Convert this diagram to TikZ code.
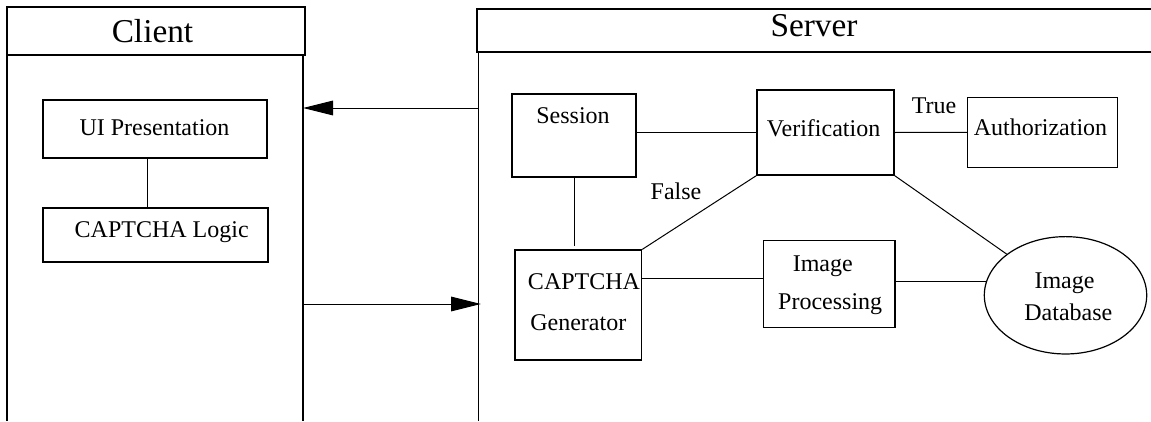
\documentclass[tikz,border=0pt]{standalone}
\usepackage{fontspec}
\setmainfont{Liberation Serif}
\usetikzlibrary{arrows.meta,shapes.geometric}

\tikzset{
  box/.style={draw, line width=0.9pt, inner sep=0pt},
  store/.style={draw, ellipse, line width=0.9pt, inner sep=0pt},
  lbl/.style={anchor=base, inner sep=0pt, font=\fontsize{18pt}{20pt}\selectfont},
  lanetitle/.style={anchor=base, inner sep=0pt, font=\fontsize{25pt}{28pt}\selectfont},
  lane/.style={line width=0.9pt},
  link/.style={line width=0.75pt},
  flow/.style={line width=0.75pt, -{Triangle[length=22.5pt,width=11pt]}},
}

\begin{document}
\begin{tikzpicture}[x=0.75pt, y=-0.75pt]
  \useasboundingbox (0,0) rectangle (1151,421);
  \clip (0,0) rectangle (1151,421);

  % ---- swimlanes ----
  \node[box, minimum width=223.5pt, minimum height=36pt] (clienthead) at (156,31) {};
  \node[lanetitle] (clienttitle) at (152.5,42) {Client};
  \coordinate (clientL) at (7,55);
  \coordinate (clientR) at (303,55);
  \draw[lane] (clientL) -- (clientL |- 0,421);
  \draw[lane] (clientR) -- (clientR |- 0,421);

  \node[box, minimum width=514.5pt, minimum height=32.25pt] (serverhead) at (820,30.5) {};
  \node[lanetitle] (servertitle) at (814,36) {Server};
  \coordinate (serverL) at (478.5,52);
  \draw[lane] (serverL) -- (serverL |- 0,421);

  % ---- messages between the lanes ----
  \coordinate (srvOut) at (478.5,108);
  \coordinate (cliIn)  at (303,108);
  \draw[flow] (srvOut) -- (cliIn);
  \coordinate (cliOut) at (303,304);
  \coordinate (srvIn)  at (481,304);
  \draw[flow] (cliOut) -- (srvIn);

  % ---- client components ----
  \node[box, minimum width=168pt, minimum height=43.5pt] (ui) at (155,129) {};
  \node[lbl] (uitext) at (154.5,135) {UI Presentation};
  \node[box, minimum width=168.75pt, minimum height=40.5pt] (logic) at (155.5,235) {};
  \node[lbl] (logictext) at (161.7,237) {CAPTCHA Logic};
  \coordinate (uiDown) at ([xshift=-6pt]ui.south);
  \draw[link] (uiDown) -- (uiDown |- logic.north);

  % ---- server components ----
  \node[box, minimum width=93pt, minimum height=62.25pt] (ses) at (574,135.5) {};
  \node[lbl] (sestext) at (573,123) {Session};

  \node[box, minimum width=102.75pt, minimum height=63.75pt] (ver) at (825.5,132.5) {};
  \node[lbl] (vertext) at (823.6,136.5) {Verification};

  \node[box, minimum width=112.5pt, minimum height=52.5pt] (auth) at (1042.7,132.3) {};
  \node[lbl] (authtext) at (1040.5,135.5) {Authorization};

  \node[box, minimum width=95pt, minimum height=82.5pt] (gen) at (578.3,305) {};
  \node[lbl] (gentext1) at (584,289) {CAPTCHA};
  \node[lbl] (gentext2) at (578.3,330.5) {Generator};

  \node[box, minimum width=98.75pt, minimum height=65.75pt] (proc) at (829.2,284) {};
  \node[lbl] (proctext1) at (822.8,271.7) {Image};
  \node[lbl] (proctext2) at (830.2,309) {Processing};

  \node[store, minimum width=121.8pt, minimum height=88pt] (db) at (1065.5,295.3) {};
  \node[lbl] (dbtext1) at (1064.5,288.3) {Image};
  \node[lbl] (dbtext2) at (1068.3,320) {Database};

  % ---- server links ----
  \draw[link] (ses.east |- ver.west) -- (ver.west);
  \draw[link] (ver.east) -- (auth.west);
  \node[lbl] (truetext) at (934,113.3) {True};
  \draw[link] (ver.south west) -- (gen.north east);
  \node[lbl] (falsetext) at (676,199) {False};
  \draw[link] (ver.south east) -- (db);
  \draw[link] (ses.south) -- ([yshift=2.5pt]ses.south |- gen.north);
  \coordinate (procIn) at ([yshift=4.3pt]proc.west);
  \draw[link] (procIn -| gen.east) -- (procIn);
  \coordinate (procOut) at ([yshift=2.25pt]proc.east);
  \draw[link] (procOut) -- (procOut -| db.170);
\end{tikzpicture}
\end{document}
